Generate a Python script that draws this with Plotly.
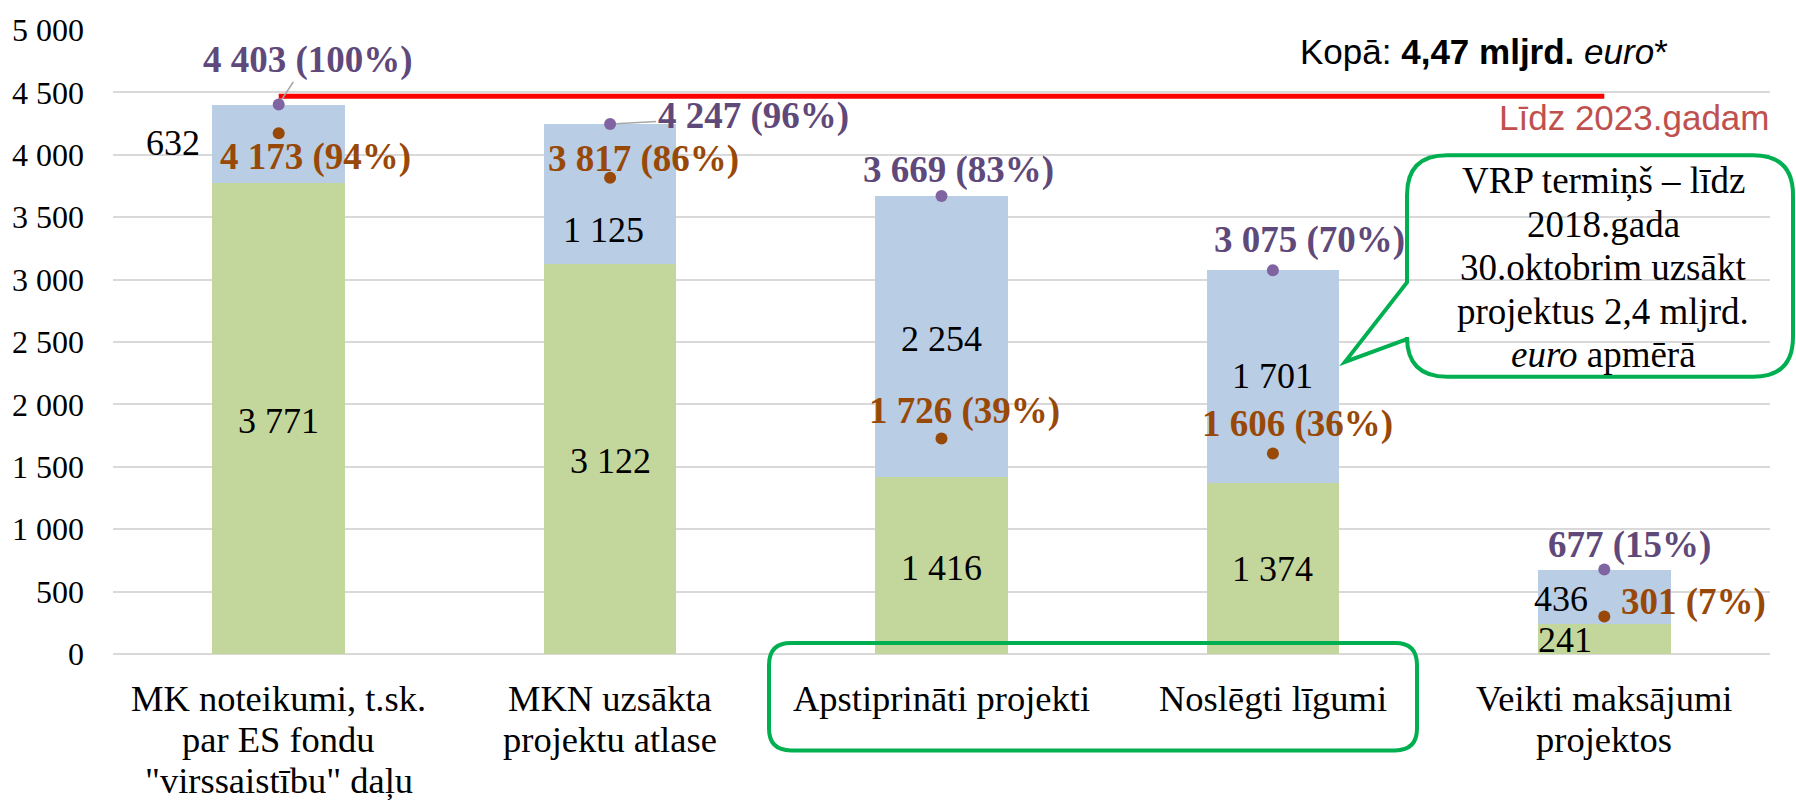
import plotly.graph_objects as go

# ---------------- data ----------------
categories = [
    "MK noteikumi, t.sk.<br>par ES fondu<br>\"virssaistību\" daļu",
    "MKN uzsākta<br>projektu atlase",
    "Apstiprināti projekti",
    "Noslēgti līgumi",
    "Veikti maksājumi<br>projektos",
]
green_vals = [3771, 3122, 1416, 1374, 241]
blue_vals = [632, 1125, 2254, 1701, 436]
total_vals = [4403, 4247, 3669, 3075, 677]
total_pct = [100, 96, 83, 70, 15]
brown_vals = [4173, 3817, 1726, 1606, 301]
brown_pct = [94, 86, 39, 36, 7]
target_total = 4470
y_ticks = [0, 500, 1000, 1500, 2000, 2500, 3000, 3500, 4000, 4500, 5000]
target_text = "Kopā: <b>4,47 mljrd.</b> <i>euro</i>*"
target_sub = "Līdz 2023.gadam"
callout_lines = ["VRP termiņš – līdz", "2018.gada", "30.oktobrim uzsākt",
                 "projektus 2,4 mljrd.", "<i>euro</i> apmērā"]

# ---------------- style / layout constants ----------------
W, H = 1796, 800
L_M, R_M, T_M, B_M = 113, 26, 26, 146
SERIF = "Liberation Serif, Times New Roman, serif"
SANS = "Liberation Sans, Arial, sans-serif"
GREEN = "#C3D69B"
BLUE = "#B9CDE5"
PURPLE_DOT = "#8064A2"
PURPLE_TXT = "#5F497A"
BROWN = "#984807"
GRID = "#D9D9D9"

# label offsets in pixels (dx right, dy down)
purple_off = [(29, -45), (143, -8), (17, -26), (37, -30), (25, -25)]
brown_off = [(37, 24), (33, -19), (23, -28), (25, -30), (89, -14)]
green_off = [(0, 2), (0, 2), (0, 2), (0, 1), (-39, 1)]
blue_off = [(-106, -1), (-7, 36), (0, 2), (0, 0), (-43, 2)]


def fmt(v):
    return f"{v:,}".replace(",", " ")


plot_w = W - L_M - R_M
plot_h = H - T_M - B_M


def PX(X):
    return (X - L_M) / plot_w


def PY(Y):
    return (H - B_M - Y) / plot_h


fig = go.Figure()
fig.add_trace(go.Bar(x=categories, y=green_vals, marker_color=GREEN,
                     marker_line_width=0, hoverinfo="skip"))
fig.add_trace(go.Bar(x=categories, y=blue_vals, marker_color=BLUE,
                     marker_line_width=0, hoverinfo="skip"))
fig.add_trace(go.Scatter(x=[categories[0], categories[-1]],
                         y=[target_total, target_total], mode="lines",
                         line=dict(color="#FF0000", width=5), hoverinfo="skip"))
fig.add_trace(go.Scatter(x=categories, y=total_vals, mode="markers",
                         marker=dict(color=PURPLE_DOT, size=12), hoverinfo="skip"))
fig.add_trace(go.Scatter(x=categories, y=brown_vals, mode="markers",
                         marker=dict(color=BROWN, size=12), hoverinfo="skip"))

ann = []
for i, c in enumerate(categories):
    # purple total labels
    dx, dy = purple_off[i]
    txt = f"<b>{fmt(total_vals[i])} ({total_pct[i]}%)</b>"
    if i < 2:
        ann.append(dict(x=c, y=total_vals[i], xref="x", yref="y", text=txt,
                        showarrow=True, ax=dx, ay=dy, arrowhead=0, arrowwidth=1.5,
                        arrowcolor="#A6A6A6", standoff=6,
                        font=dict(family=SERIF, size=37, color=PURPLE_TXT)))
    else:
        ann.append(dict(x=c, y=total_vals[i], xref="x", yref="y", text=txt,
                        showarrow=False, xshift=dx, yshift=-dy,
                        font=dict(family=SERIF, size=37, color=PURPLE_TXT)))
    # brown labels
    dx, dy = brown_off[i]
    ann.append(dict(x=c, y=brown_vals[i], xref="x", yref="y",
                    text=f"<b>{fmt(brown_vals[i])} ({brown_pct[i]}%)</b>",
                    showarrow=False, xshift=dx, yshift=-dy,
                    font=dict(family=SERIF, size=37, color=BROWN)))
    # green segment labels
    dx, dy = green_off[i]
    ann.append(dict(x=c, y=green_vals[i] / 2, xref="x", yref="y",
                    text=fmt(green_vals[i]), showarrow=False, xshift=dx, yshift=-dy,
                    font=dict(family=SERIF, size=36, color="black")))
    # blue segment labels
    dx, dy = blue_off[i]
    ann.append(dict(x=c, y=green_vals[i] + blue_vals[i] / 2, xref="x", yref="y",
                    text=fmt(blue_vals[i]), showarrow=False, xshift=dx, yshift=-dy,
                    font=dict(family=SERIF, size=36, color="black")))
    # category labels, one annotation per line
    for k, line in enumerate(c.split("<br>")):
        ann.append(dict(x=c, y=0, xref="x", yref="y", text=line, showarrow=False,
                        xanchor="center", yshift=-(44 + 41 * k),
                        font=dict(family=SERIF, size=36.5, color="black")))

# target texts
ann.append(dict(x=PX(1484), y=PY(48), xref="paper", yref="paper", text=target_text,
                xanchor="center", yanchor="middle", showarrow=False,
                font=dict(family=SANS, size=35, color="black")))
ann.append(dict(x=PX(1634), y=PY(114), xref="paper", yref="paper", text=target_sub,
                xanchor="center", yanchor="middle", showarrow=False,
                font=dict(family=SANS, size=35, color="#C0504D")))
# callout text
for k, line in enumerate(callout_lines):
    ann.append(dict(x=PX(1603), y=PY(178 + 43.7 * k), xref="paper", yref="paper",
                    text=line, xanchor="center", yanchor="middle", showarrow=False,
                    font=dict(family=SERIF, size=37, color="black")))


def rounded_path(Lx, Ty, Rx, By, r, tail=None):
    p = [f"M {PX(Lx + r)} {PY(Ty)}", f"L {PX(Rx - r)} {PY(Ty)}",
         f"Q {PX(Rx)} {PY(Ty)} {PX(Rx)} {PY(Ty + r)}",
         f"L {PX(Rx)} {PY(By - r)}",
         f"Q {PX(Rx)} {PY(By)} {PX(Rx - r)} {PY(By)}",
         f"L {PX(Lx + r)} {PY(By)}",
         f"Q {PX(Lx)} {PY(By)} {PX(Lx)} {PY(By - r)}"]
    if tail:
        y1, tx, ty, y2 = tail
        p += [f"L {PX(Lx)} {PY(y2)}", f"L {PX(tx)} {PY(ty)}", f"L {PX(Lx)} {PY(y1)}"]
    p += [f"L {PX(Lx)} {PY(Ty + r)}",
          f"Q {PX(Lx)} {PY(Ty)} {PX(Lx + r)} {PY(Ty)}", "Z"]
    return " ".join(p)


shapes = [
    dict(type="path", xref="paper", yref="paper", layer="above",
         path=rounded_path(1407, 152, 1793, 375, 40, tail=(280, 1345, 360, 337)),
         line=dict(color="#00B050", width=4), fillcolor="rgba(0,0,0,0)"),
    dict(type="path", xref="paper", yref="paper", layer="above",
         path=rounded_path(769, 643, 1417, 751, 22),
         line=dict(color="#00B050", width=4), fillcolor="rgba(0,0,0,0)"),
]

fig.update_layout(
    width=W, height=H,
    margin=dict(l=L_M, r=R_M, t=T_M, b=B_M),
    barmode="stack", bargap=0.6,
    plot_bgcolor="white", paper_bgcolor="white",
    showlegend=False,
    separators=", ",
    annotations=ann, shapes=shapes,
    xaxis=dict(showticklabels=False, showgrid=False, showline=False, ticks=""),
    yaxis=dict(range=[0, 5000], tickvals=y_ticks, tickformat=",d",
               showgrid=True, gridcolor=GRID, gridwidth=2,
               zeroline=True, zerolinecolor=GRID, zerolinewidth=2,
               showline=False, ticks="", ticklabelstandoff=28,
               tickfont=dict(family=SERIF, size=32, color="black")),
)

fig.write_html("out.html", config={"displayModeBar": False},
               post_script="document.body.style.margin='0px';document.body.style.overflow='hidden';")
